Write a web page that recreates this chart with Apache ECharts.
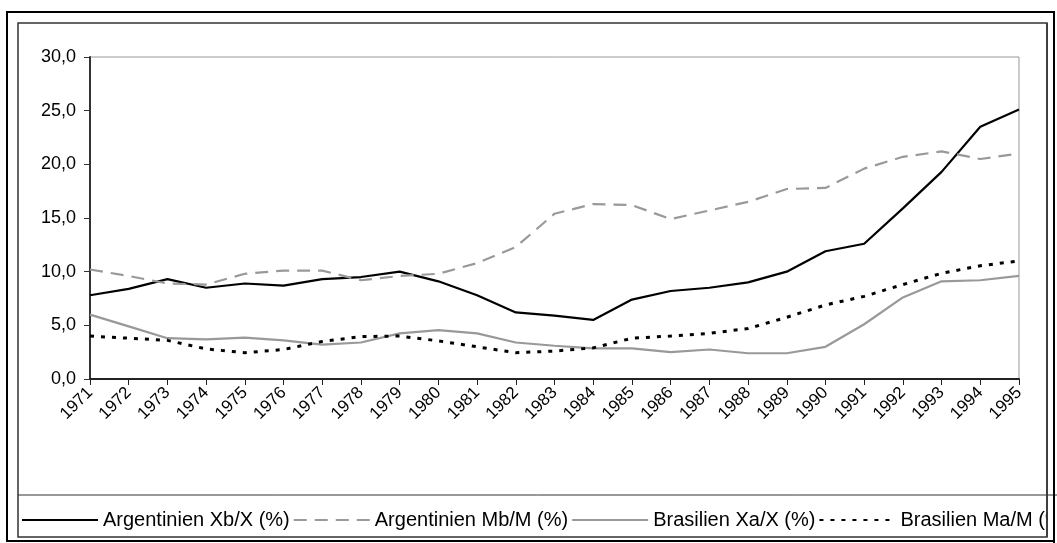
<!DOCTYPE html>
<html>
<head>
<meta charset="UTF-8">
<title>Argentinien / Brasilien</title>
<script type="text/javascript" src="https://cdn.jsdelivr.net/npm/echarts@6/dist/echarts.min.js"></script>
<style>
  body{margin:0;background:#fff}
</style>
</head>
<body>
<div id="main" style="width:1057px;height:543px"></div>
<script type="text/javascript">
// Jahre (Kategorien)
var years = ['1971','1972','1973','1974','1975','1976','1977','1978','1979','1980','1981','1982','1983',
  '1984','1985','1986','1987','1988','1989','1990','1991','1992','1993','1994','1995'];

// Reihen
var argXb = [7.8, 8.4, 9.3, 8.5, 8.9, 8.7, 9.3, 9.5, 10.0, 9.1, 7.8, 6.2, 5.9,
  5.5, 7.4, 8.2, 8.5, 9.0, 10.0, 11.9, 12.6, 15.9, 19.3, 23.5, 25.1];
var argMb = [10.2, 9.6, 8.9, 8.8, 9.8, 10.1, 10.1, 9.2, 9.6, 9.8, 10.8, 12.3, 15.4,
  16.3, 16.2, 14.9, 15.7, 16.5, 17.7, 17.8, 19.6, 20.7, 21.2, 20.5, 21.0];
var braXa = [6.0, 4.9, 3.8, 3.7, 3.85, 3.6, 3.2, 3.4, 4.25, 4.55, 4.25, 3.4, 3.1,
  2.85, 2.85, 2.5, 2.75, 2.4, 2.4, 3.0, 5.1, 7.6, 9.1, 9.2, 9.6];
var braMa = [4.0, 3.8, 3.6, 2.8, 2.45, 2.75, 3.5, 3.95, 4.0, 3.55, 3.0, 2.45, 2.6,
  2.9, 3.8, 4.0, 4.25, 4.7, 5.75, 6.9, 7.7, 8.8, 9.85, 10.55, 11.0];

var seriesNames = ['Argentinien Xb/X (%)', 'Argentinien Mb/M (%)', 'Brasilien Xa/X (%)', 'Brasilien Ma/M (%)'];

var myChart = echarts.init(document.getElementById('main'));

function mkLine(name, data, color, width, type) {
  return {
    name: name,
    type: 'line',
    data: data,
    symbol: 'none',
    lineStyle: { color: color, width: width, type: type },
    itemStyle: { color: color },
    animation: false
  };
}

var option = {
  animation: false,
  textStyle: { fontFamily: 'Liberation Sans, Arial, sans-serif' },
  grid: {
    left: 90, right: 38, top: 57, bottom: 164,
    show: true, borderColor: '#999', borderWidth: 1
  },
  legend: {
    left: 16, top: 505, width: 1400,
    itemWidth: 76, itemHeight: 12, itemGap: 3,
    itemStyle: { opacity: 0 },
    textStyle: { fontSize: 20, color: '#000' },
    data: seriesNames
  },
  xAxis: {
    type: 'category',
    data: years,
    boundaryGap: false,
    axisLine: { lineStyle: { color: '#222', width: 2 } },
    axisTick: { length: 6, lineStyle: { color: '#222' } },
    axisLabel: { rotate: 45, fontSize: 17, color: '#000', margin: 11, interval: 0 }
  },
  yAxis: {
    type: 'value',
    min: 0, max: 30, interval: 5,
    splitLine: { show: false },
    axisLine: { show: true, lineStyle: { color: '#333', width: 2 } },
    axisTick: { show: true, length: 6, lineStyle: { color: '#333' } },
    axisLabel: {
      fontSize: 18, color: '#000', margin: 14,
      formatter: function (v) { return v.toFixed(1).replace('.', ','); }
    }
  },
  series: [
    mkLine(seriesNames[0], argXb, '#000', 2.2, 'solid'),
    mkLine(seriesNames[1], argMb, '#999', 2.2, [13, 8]),
    mkLine(seriesNames[2], braXa, '#999', 2.2, 'solid'),
    mkLine(seriesNames[3], braMa, '#000', 3, [4, 7])
  ],
  graphic: [
    // abgeschnittener Titel oben
    { type: 'text', z: 10, left: 'center', top: -21,
      style: { text: 'Anteil des bilateralen Handels Argentinien - Brasilien (1971-1995)', font: 'bold 20px Liberation Sans, Arial', fill: '#000' } },
    // Rahmen der Seite
    { type: 'rect', z: 10, shape: { x: 7, y: 12, width: 1047, height: 529 },
      style: { fill: null, stroke: '#000', lineWidth: 2 } },
    // Diagrammbereich
    { type: 'rect', z: 10, shape: { x: 18, y: 23, width: 1029, height: 514 },
      style: { fill: null, stroke: '#333', lineWidth: 1.5 } },
    // Legendenkasten, rechts abgeschnitten
    { type: 'rect', z: 10, shape: { x: 1048, y: 490, width: 5, height: 46 },
      style: { fill: '#fff' } },
    { type: 'rect', z: 10, shape: { x: 1055, y: 490, width: 3, height: 53 },
      style: { fill: '#fff' } },
    { type: 'line', z: 11, shape: { x1: 18, y1: 495, x2: 1057, y2: 495 },
      style: { stroke: '#333', lineWidth: 1 } },
    { type: 'line', z: 11, shape: { x1: 1047, y1: 23, x2: 1047, y2: 537 },
      style: { stroke: '#333', lineWidth: 1.5 } },
    { type: 'line', z: 11, shape: { x1: 1054, y1: 12, x2: 1054, y2: 543 },
      style: { stroke: '#000', lineWidth: 2 } }
  ]
};

myChart.setOption(option);
</script>
</body>
</html>
